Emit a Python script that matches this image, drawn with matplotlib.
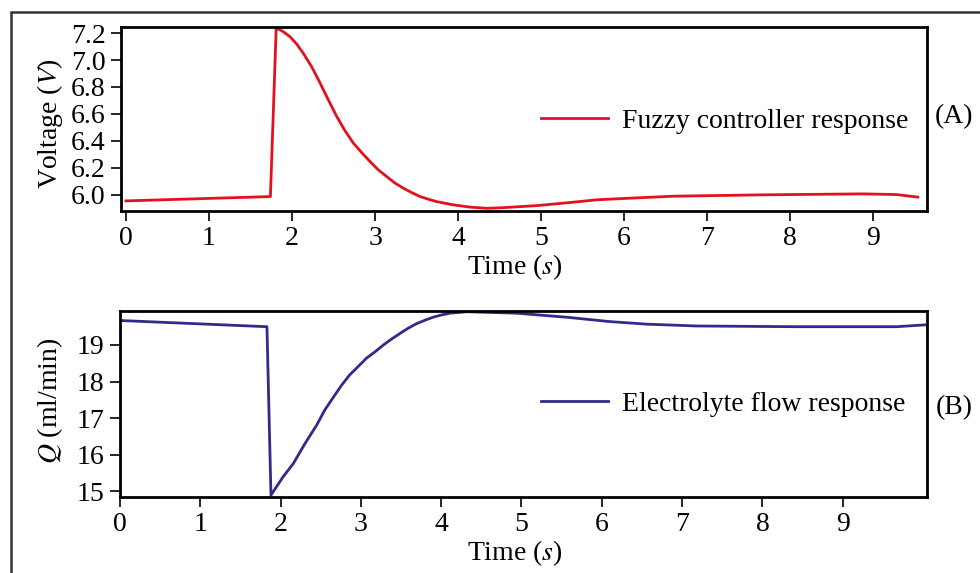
import numpy as np
import matplotlib.pyplot as plt
from matplotlib.patches import Rectangle

plt.rcParams['font.family'] = ['Liberation Serif', 'DejaVu Serif']
plt.rcParams['mathtext.fontset'] = 'stix'

# (A) fuzzy controller voltage
t_v = [0.0, 1.74, 1.81, 1.895, 1.976, 2.056, 2.136, 2.237, 2.34, 2.438, 2.54, 2.64,
       2.74, 2.84, 2.94, 3.04, 3.14, 3.24, 3.34, 3.44, 3.54, 3.64, 3.74, 3.94, 4.14,
       4.35, 4.55, 4.95, 5.35, 5.67, 6.07, 6.6, 7.68, 8.88, 9.28, 9.54]
volt = [5.955, 5.987, 7.24, 7.21, 7.173, 7.119, 7.05, 6.95, 6.827, 6.704, 6.58, 6.474,
        6.383, 6.313, 6.247, 6.185, 6.136, 6.087, 6.05, 6.017, 5.988, 5.968, 5.95, 5.926, 5.909,
        5.90, 5.905, 5.92, 5.943, 5.963, 5.975, 5.99, 6.0, 6.007, 6.002, 5.983]

# (B) electrolyte flow
t_q = [0.0, 1.83, 1.88, 2.03, 2.16, 2.30, 2.45, 2.55, 2.66, 2.76, 2.86, 2.97, 3.07,
       3.18, 3.28, 3.38, 3.49, 3.59, 3.69, 3.80, 3.90, 4.0, 4.11, 4.32, 4.94, 5.56,
       6.1, 6.56, 7.18, 8.43, 9.67, 10.02]
flow = [19.67, 19.5, 14.89, 15.39, 15.76, 16.29, 16.81, 17.22, 17.58, 17.9, 18.18, 18.42, 18.64,
        18.82, 19.0, 19.16, 19.32, 19.46, 19.58, 19.68, 19.76, 19.82, 19.87, 19.91, 19.87, 19.76,
        19.64, 19.57, 19.52, 19.50, 19.50, 19.55]

W, H = 980, 573
fig = plt.figure(figsize=(W / 100, H / 100), dpi=100)

def px(x, y):
    return x / W, 1 - y / H

def box(l, t, r, b):
    return [l / W, 1 - b / H, (r - l) / W, (b - t) / H]

# outer frame
fig.patches.append(Rectangle(px(11, 700), 1.2, 1.2, transform=fig.transFigure,
                             fill=False, ec='#333333', lw=1.8))

fs = 20
red = '#e5101e'
navy = '#2f2b8a'

def style(ax):
    for s in ax.spines.values():
        s.set_linewidth(2)
    ax.tick_params(direction='out', length=7, width=1.2, labelsize=fs, pad=4,
                   top=False, right=False)

ax1 = fig.add_axes(box(121, 27, 927, 211))
ax1.plot(t_v, volt, color=red, lw=2, label='Fuzzy controller response')
ax1.set_xlim(-0.06, 9.65)
ax1.set_ylim(5.88, 7.245)
ax1.set_xticks(range(10))
ax1.set_yticks([6.0, 6.2, 6.4, 6.6, 6.8, 7.0, 7.2])
ax1.set_yticklabels(['6.0', '6.2', '6.4', '6.6', '6.8', '7.0', '7.2'])
style(ax1)
ax1.legend(loc='center right', frameon=False, fontsize=fs, handlelength=2.4,
           handletextpad=0.5, bbox_to_anchor=(1.0075, 0.489))

ax2 = fig.add_axes(box(120, 311, 927, 497))
ax2.plot(t_q, flow, color=navy, lw=2, label='Electrolyte flow response')
ax2.set_xlim(0, 10.05)
ax2.set_ylim(14.84, 19.93)
ax2.set_xticks(range(10))
ax2.set_yticks([15, 16, 17, 18, 19])
style(ax2)
ax2.legend(loc='center right', frameon=False, fontsize=fs, handlelength=2.4,
           handletextpad=0.5, bbox_to_anchor=(1.004, 0.50))

fig.text(*px(515, 267), r'Time ($s$)', fontsize=fs, ha='center', va='center')
fig.text(*px(515, 553), r'Time ($s$)', fontsize=fs, ha='center', va='center')
fig.text(*px(50, 124), r'Voltage ($V$)', fontsize=fs, ha='center', va='center', rotation=90)
fig.text(*px(50, 401), r'$Q$ (ml/min)', fontsize=fs, ha='center', va='center', rotation=90)
fig.text(*px(954, 117), '(A)', fontsize=fs, ha='center', va='center')
fig.text(*px(954, 408), '(B)', fontsize=fs, ha='center', va='center')

fig.savefig('out.png', dpi=100)
